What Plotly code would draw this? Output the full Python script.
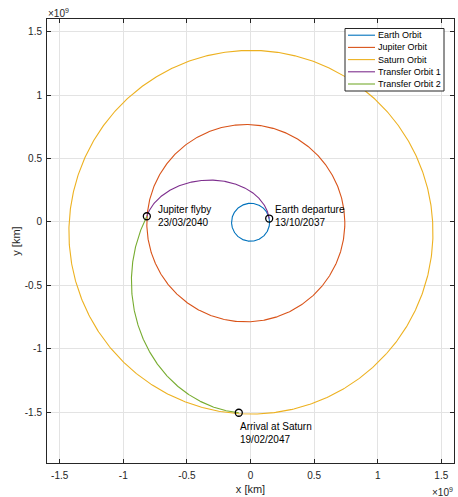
import numpy as np
import plotly.graph_objects as go

# Orbital elements of the planets: semi-major axis [km], eccentricity,
# longitude of perihelion [deg]
planet_names = ["Earth Orbit", "Jupiter Orbit", "Saturn Orbit"]
planet_a_km = [1.496e8, 7.785e8, 1.4335e9]
planet_ecc = [0.0167, 0.0489, 0.0565]
planet_peri_deg = [102.9, 14.75, 92.4]

# Mission events: heliocentric position [km]
event_names = ["Earth departure", "Jupiter flyby", "Arrival at Saturn"]
event_dates = ["13/10/2037", "23/03/2040", "19/02/2047"]
event_x_km = [0.147e9, -0.815e9, -0.092e9]
event_y_km = [0.027e9, 0.045e9, -1.504e9]

# A point passed along each transfer arc [km]
transfer_names = ["Transfer Orbit 1", "Transfer Orbit 2"]
transfer_mid_x_km = [-0.305e9, -0.936e9]
transfer_mid_y_km = [0.330e9, -0.500e9]

tick_vals = [-1.5, -1.0, -0.5, 0.0, 0.5, 1.0, 1.5]
tick_text = ["-1.5", "-1", "-0.5", "0", "0.5", "1", "1.5"]

SCALE = 1e9
colors = ["#0072BD", "#D95319", "#EDB120", "#7E2F8E", "#77AC30"]
FONT = "Liberation Sans, Arial, Helvetica, sans-serif"
TXT = "#262626"

fig = go.Figure()

# Planet orbits: Keplerian ellipses with the Sun at one focus
theta = np.linspace(0.0, 2.0 * np.pi, 721)
for name, a, e, w, c in zip(planet_names, planet_a_km, planet_ecc,
                            planet_peri_deg, colors):
    r = a * (1 - e ** 2) / (1 + e * np.cos(theta - np.radians(w)))
    fig.add_trace(go.Scatter(x=r * np.cos(theta) / SCALE,
                             y=r * np.sin(theta) / SCALE,
                             mode="lines", name=name,
                             line=dict(color=c, width=1.1),
                             hoverinfo="skip"))


def conic_through(points):
    """Focus-centred conic 1/r = A + B cos(t) + C sin(t) through three points."""
    pts = np.asarray(points, dtype=float)
    t = np.arctan2(pts[:, 1], pts[:, 0])
    r = np.hypot(pts[:, 0], pts[:, 1])
    M = np.column_stack([np.ones(3), np.cos(t), np.sin(t)])
    return np.linalg.solve(M, 1.0 / r)


# Transfer arcs between consecutive events, swept counter-clockwise
for k, (name, c) in enumerate(zip(transfer_names, colors[3:])):
    p0 = (event_x_km[k], event_y_km[k])
    pm = (transfer_mid_x_km[k], transfer_mid_y_km[k])
    p1 = (event_x_km[k + 1], event_y_km[k + 1])
    A, B, C = conic_through([p0, pm, p1])
    t0 = np.arctan2(p0[1], p0[0])
    t1 = np.arctan2(p1[1], p1[0])
    if t1 < t0:
        t1 += 2 * np.pi
    t = np.linspace(t0, t1, 400)
    r = 1.0 / (A + B * np.cos(t) + C * np.sin(t))
    fig.add_trace(go.Scatter(x=r * np.cos(t) / SCALE, y=r * np.sin(t) / SCALE,
                             mode="lines", name=name,
                             line=dict(color=c, width=1.1),
                             hoverinfo="skip"))

# Event markers
fig.add_trace(go.Scatter(x=np.array(event_x_km) / SCALE,
                         y=np.array(event_y_km) / SCALE,
                         mode="markers", showlegend=False,
                         marker=dict(symbol="circle-open", size=7,
                                     color="black", line=dict(width=1.3))))

# Event labels
label_style = [dict(xanchor="left", yanchor="middle", xshift=4, yshift=3),
               dict(xanchor="left", yanchor="middle", xshift=9, yshift=0),
               dict(xanchor="left", yanchor="top", xshift=-1, yshift=-6)]
for name, date, x, y, st in zip(event_names, event_dates, event_x_km,
                                event_y_km, label_style):
    fig.add_annotation(x=x / SCALE, y=y / SCALE, text=f"{name}<br>{date}",
                       showarrow=False, align="left",
                       font=dict(family=FONT, size=10, color="black"), **st)

# Figure geometry (pixels)
W, H = 458, 497
ML, MR, MT, MB = 47, 4, 19, 34
PW, PH = W - ML - MR, H - MT - MB


def px(xp):
    return (xp - ML) / PW


def py(yp):
    return 1 - (yp - MT) / PH


# Legend box drawn in the upper right corner
all_names = planet_names + transfer_names
shapes = [dict(type="rect", xref="paper", yref="paper",
               x0=px(345), x1=px(444), y0=py(91), y1=py(28.5),
               line=dict(color="#262626", width=1), fillcolor="white",
               layer="above")]
for i, (name, c) in enumerate(zip(all_names, colors)):
    yrow = 35.2 + i * 12.2
    shapes.append(dict(type="line", xref="paper", yref="paper",
                       x0=px(348), x1=px(375), y0=py(yrow), y1=py(yrow),
                       line=dict(color=c, width=1.1), layer="above"))
    fig.add_annotation(xref="paper", yref="paper", x=px(376), y=py(yrow),
                       xanchor="left", yanchor="middle", text=name,
                       showarrow=False,
                       font=dict(family=FONT, size=9, color="black"))

# Axis exponent labels
fig.add_annotation(xref="paper", yref="paper", x=px(46), y=py(20.5),
                   xanchor="left", yanchor="bottom", text="×10<sup>9</sup>",
                   showarrow=False, font=dict(family=FONT, size=10, color=TXT))
fig.add_annotation(xref="paper", yref="paper", x=px(455), y=py(484),
                   xanchor="right", yanchor="top", text="×10<sup>9</sup>",
                   showarrow=False, font=dict(family=FONT, size=10, color=TXT))

axis_common = dict(tickvals=tick_vals, ticktext=tick_text, showgrid=True,
                   gridcolor="#e3e3e3", gridwidth=1, zeroline=False,
                   showline=True, linecolor="#262626", linewidth=1,
                   mirror="allticks", ticks="inside", ticklen=4,
                   tickcolor="#262626",
                   tickfont=dict(family=FONT, size=10, color=TXT))

fig.update_layout(
    width=W, height=H,
    margin=dict(l=ML, r=MR, t=MT, b=MB, autoexpand=False),
    paper_bgcolor="white", plot_bgcolor="white",
    showlegend=False, shapes=shapes,
    xaxis=dict(range=[-1.6, 1.6], ticklabelstandoff=3,
               title=dict(text="x [km]", standoff=5,
                          font=dict(family=FONT, size=11, color=TXT)),
               **axis_common),
    yaxis=dict(range=[-1.9, 1.6], ticklabelstandoff=2,
               title=dict(text="y [km]", standoff=1,
                          font=dict(family=FONT, size=11, color=TXT)),
               **axis_common),
)

fig.write_html("out.html")
